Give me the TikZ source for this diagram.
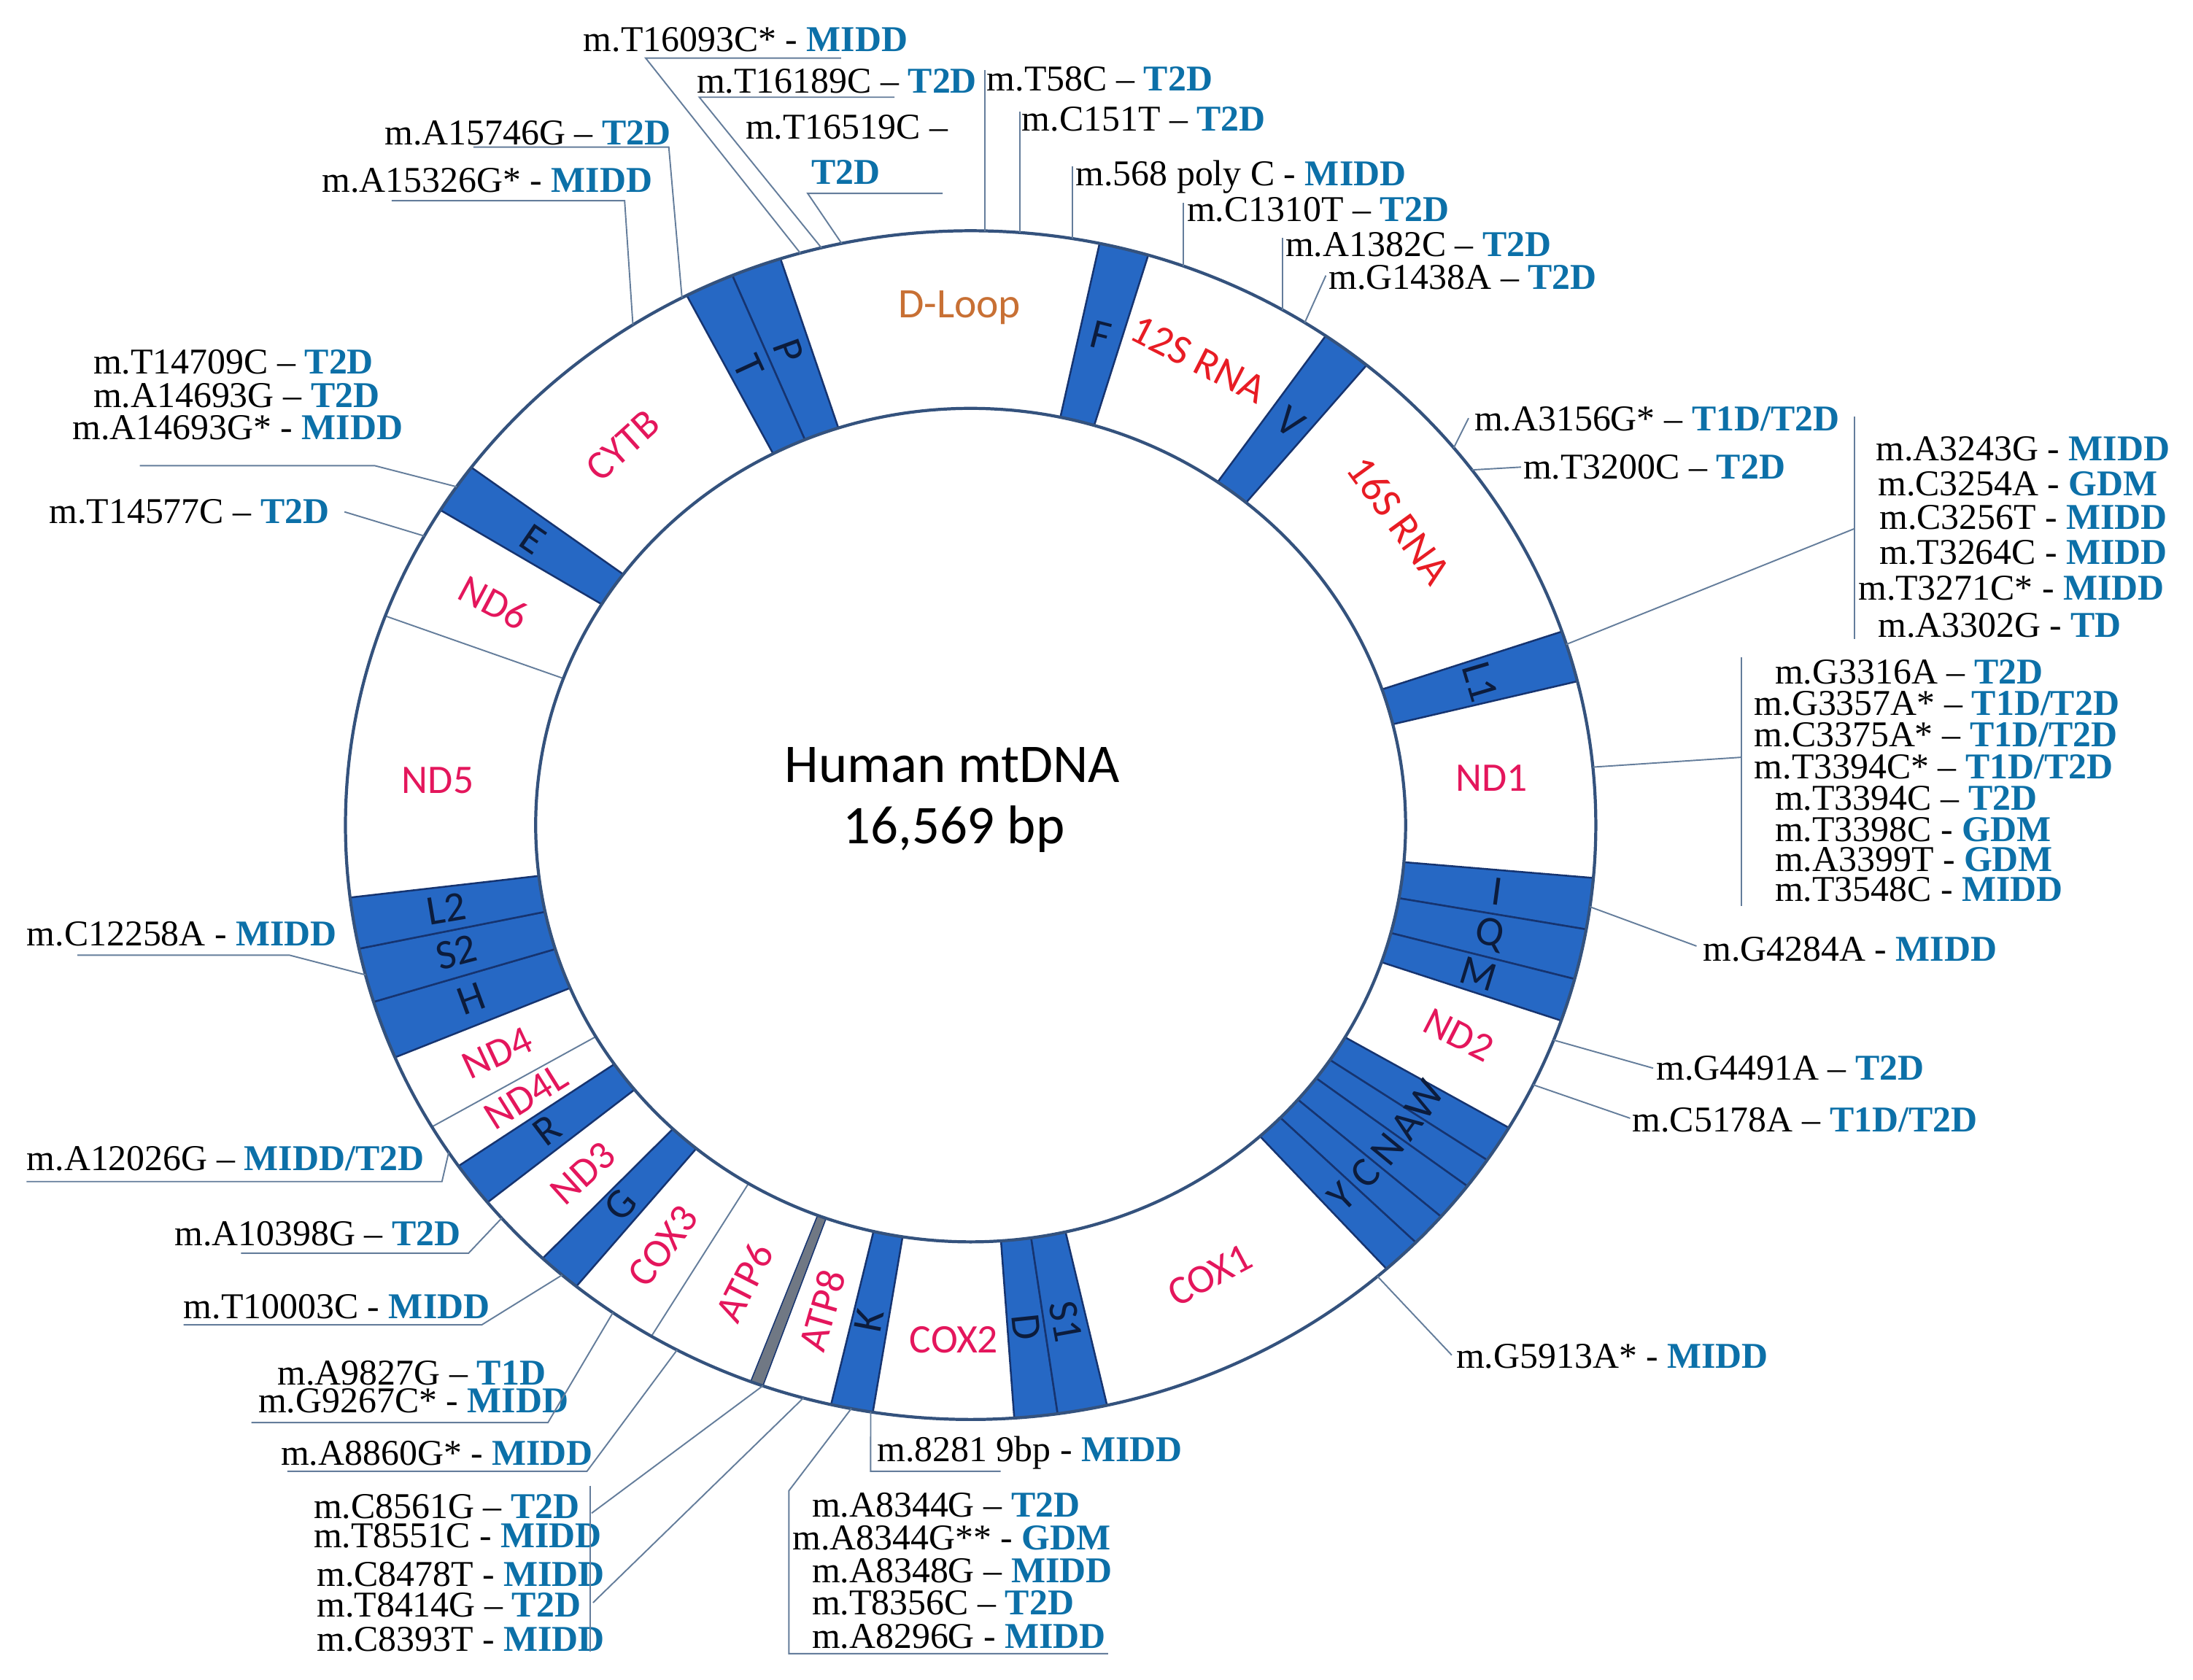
\documentclass[tikz,border=0pt]{standalone}
\usepackage{fontspec}
\setmainfont{Liberation Serif}
\newfontfamily\calfont{Carlito}
\definecolor{dz}{RGB}{12,112,168}
\definecolor{gene}{RGB}{228,22,92}
\definecolor{rrna}{RGB}{232,28,36}
\definecolor{dloop}{RGB}{200,112,52}
\definecolor{trnafill}{RGB}{38,104,196}
\definecolor{trnaline}{RGB}{22,52,112}
\definecolor{trnatext}{RGB}{12,28,60}
\definecolor{ringc}{RGB}{52,82,125}
\definecolor{leadc}{RGB}{100,125,155}
\definecolor{graybar}{RGB}{112,120,132}
\newcommand\dzz[1]{\textbf{\textcolor{dz}{#1}}}
\tikzset{
 lbl/.style={anchor=base west, inner sep=0pt, font=\fontsize{26}{26}\selectfont},
 lead/.style={draw=leadc, line width=1pt},
 gname/.style={font=\calfont\fontsize{29}{29}\selectfont, text=gene, inner sep=0pt},
 rname/.style={font=\calfont\fontsize{30}{30}\selectfont, text=rrna, inner sep=0pt},
 tname/.style={font=\calfont\fontsize{30}{30}\selectfont, text=trnatext, inner sep=0pt},
 trna/.style={fill=trnafill, draw=trnaline, line width=1.3pt},
 gbar/.style={fill=graybar, draw=trnaline, line width=0.8pt},
 thinb/.style={draw=leadc, line width=1pt},
 ringline/.style={draw=ringc, line width=2.2pt},
}
\newcommand\trnaseg[3][trna]{\path[#1] (#2:447 and 425) arc[start angle=#2, end angle=#3, x radius=447, y radius=425] -- (#3:311 and 298) arc[start angle=#3, end angle=#2, x radius=311, y radius=298] -- cycle;}
\newcommand\mlab[4]{\node[lbl] (#1) at (#2,#3+8.5) {#4};}
\begin{document}
\begin{tikzpicture}[x=1pt,y=-1pt]
\fill[white] (0,0) rectangle (1568,1201);
\useasboundingbox (0,0) rectangle (1568,1201);

\begin{scope}[shift={(694,590)}, y=1pt]
 % tRNA blocks
 \trnaseg{107.7}{112.4}
 \trnaseg{112.4}{117.0}
 \trnaseg{73.5}{78.1}
 \trnaseg{50.7}{55.4}
 \trnaseg{14.0}{19.0}
 \trnaseg{-10.1}{-5.1}
 \trnaseg{-15.0}{-10.1}
 \trnaseg{-19.2}{-15.0}
 \trnaseg{-34.3}{-30.6}
 \trnaseg{-37.4}{-34.3}
 \trnaseg{-41.2}{-37.4}
 \trnaseg{-44.6}{-41.2}
 \trnaseg{-48.3}{-44.6}
 \trnaseg{-86.0}{-82.0}
 \trnaseg{-82.0}{-77.4}
 \trnaseg{-102.9}{-99.0}
 \trnaseg{-133.2}{-129.1}
 \trnaseg{-145.0}{-140.6}
 \trnaseg{-162.7}{-157.0}
 \trnaseg{-168.0}{-162.7}
 \trnaseg{-173.0}{-168.0}
 \trnaseg{143.0}{148.0}
 \trnaseg[gbar]{-110.6}{-109.4}
 % thin boundaries
 \draw[thinb] (-149.5:311 and 298) -- (-149.5:447 and 425);
 \draw[thinb] (159.4:311 and 298) -- (159.4:447 and 425);
 \draw[thinb] (-120.7:311 and 298) -- (-120.7:447 and 425);
 % ring
 \draw[ringline] (0,0) ellipse[x radius=447, y radius=425];
 \draw[ringline] (0,0) ellipse[x radius=311, y radius=298];
 % tRNA letters
 \node[tname, rotate=-65.3] (lT) at (114.7:380 and 361) {T};
 \node[tname, rotate=-70] (lP) at (110.0:380 and 361) {P};
 \node[tname, rotate=-14.2] (lF) at (75.8:380 and 361) {F};
 \node[tname, rotate=-37] (lV) at (53.0:380 and 361) {V};
 \node[tname, rotate=-73.5] (lL1) at (16.5:380 and 361) {L1};
 \node[tname, rotate=-7.6] (lI) at (-7.6:380 and 361) {I};
 \node[tname, rotate=-12.5] (lQ) at (-12.5:380 and 361) {Q};
 \node[tname, rotate=-17] (lM) at (-17.1:380 and 361) {M};
 \node[tname, rotate=57.5] (lW) at (-32.5:385 and 366) {W};
 \node[tname, rotate=54.1] (lA) at (-35.9:385 and 366) {A};
 \node[tname, rotate=50.7] (lN) at (-39.3:385 and 366) {N};
 \node[tname, rotate=47.1] (lC) at (-42.9:385 and 366) {C};
 \node[tname, rotate=43.5] (lY) at (-46.5:385 and 366) {Y};
 \node[tname, rotate=-84] (lD) at (-84.0:380 and 361) {D};
 \node[tname, rotate=-79.7] (lS1) at (-79.7:380 and 361) {S1};
 \node[tname, rotate=79] (lK) at (-101.0:380 and 361) {K};
 \node[tname, rotate=48.8] (lG) at (-131.2:380 and 361) {G};
 \node[tname, rotate=37.2] (lR) at (-142.8:380 and 361) {R};
 \node[tname, rotate=20.1] (lH) at (-159.9:380 and 361) {H};
 \node[tname, rotate=14.6] (lS2) at (-165.4:380 and 361) {S2};
 \node[tname, rotate=9.5] (lL2) at (-170.5:380 and 361) {L2};
 \node[tname, rotate=-34.5] (lE) at (145.5:380 and 361) {E};
 % ring anchor points for leaders
 \coordinate (r1) at (105.8:447 and 425);
 \coordinate (r2) at (103.8:447 and 425);
 \coordinate (r3) at (101.9:447 and 425);
 \coordinate (r4) at (117.5:447 and 425);
 \coordinate (r5) at (122.7:447 and 425);
 \coordinate (r6) at (88.7:447 and 425);
 \coordinate (r7) at (85.5:447 and 425);
 \coordinate (r8) at (80.6:447 and 425);
 \coordinate (r9) at (70.1:447 and 425);
 \coordinate (r10) at (60.05:447 and 425);
 \coordinate (r11) at (57.7:447 and 425);
 \coordinate (r12) at (39.4:447 and 425);
 \coordinate (r13) at (36.7:447 and 425);
 \coordinate (r14) at (17.7:447 and 425);
 \coordinate (r15) at (5.6:447 and 425);
 \coordinate (r16) at (-7.9:447 and 425);
 \coordinate (r17) at (-21.2:447 and 425);
 \coordinate (r18) at (-25.9:447 and 425);
 \coordinate (r19) at (-49.4:447 and 425);
 \coordinate (r20) at (-99.2:447 and 425);
 \coordinate (r21) at (-101.0:447 and 425);
 \coordinate (r22a) at (-109.4:447 and 425);
 \coordinate (r22b) at (-105.5:447 and 425);
 \coordinate (r23) at (-118.0:447 and 425);
 \coordinate (r24) at (-124.9:447 and 425);
 \coordinate (r25) at (-130.8:447 and 425);
 \coordinate (r26) at (-138.6:447 and 425);
 \coordinate (r27) at (-146.6:447 and 425);
 \coordinate (r28) at (-165.4:447 and 425);
 \coordinate (r29) at (150.9:447 and 425);
 \coordinate (r30) at (145.3:447 and 425);
\end{scope}

% gene names
\node[font=\calfont\fontsize{30}{30}\selectfont, text=dloop, inner sep=0pt] (gDL) at (686,220) {D-Loop};
\node[rname, rotate=-27] (g12S) at (857,257) {12S RNA};
\node[rname, rotate=-54] (g16S) at (1000.5,372) {16S RNA};
\node[gname] (gND1) at (1066.5,556.5) {ND1};
\node[gname, rotate=-27] (gND2) at (1043,740) {ND2};
\node[gname, rotate=28] (gCOX1) at (865,912) {COX1};
\node[gname] (gCOX2) at (682,958) {COX2};
\node[gname, rotate=74] (gATP8) at (588,937) {ATP8};
\node[gname, rotate=63] (gATP6) at (532,917) {ATP6};
\node[gname, rotate=53] (gCOX3) at (474,891) {COX3};
\node[gname, rotate=42] (gND3) at (417,839) {ND3};
\node[gname, rotate=32] (gND4L) at (376,784) {ND4L};
\node[gname, rotate=25] (gND4) at (355.5,753) {ND4};
\node[gname] (gND5) at (313,558) {ND5};
\node[gname, rotate=-28] (gND6) at (353,431) {ND6};
\node[gname, rotate=42] (gCYTB) at (445.5,318.5) {CYTB};

% centre title
\node[font=\calfont\fontsize{39}{39}\selectfont, inner sep=0pt] (title1) at (681,547) {Human mtDNA};
\node[font=\calfont\fontsize{39}{39}\selectfont, inner sep=0pt] (title2) at (682,593) {16,569 bp};

% labels
\mlab{tA}{417}{28.5}{m.T16093C* - \dzz{MIDD}}
\mlab{tB}{498}{58}{m.T16189C – \dzz{T2D}}
\mlab{tC}{533}{91}{m.T16519C –}
\mlab{tCb}{580}{123}{\dzz{T2D}}
\mlab{tD}{275}{95}{m.A15746G – \dzz{T2D}}
\mlab{tE}{230}{129}{m.A15326G* - \dzz{MIDD}}
\mlab{tF}{705.5}{56.5}{m.T58C – \dzz{T2D}}
\mlab{tG}{730.5}{85}{m.C151T – \dzz{T2D}}
\mlab{tH}{769}{124}{m.568 poly C - \dzz{MIDD}}
\mlab{tI}{848.5}{150}{m.C1310T – \dzz{T2D}}
\mlab{tJ}{919}{175}{m.A1382C – \dzz{T2D}}
\mlab{tK}{950}{198.5}{m.G1438A – \dzz{T2D}}
\mlab{tL}{1054}{299.5}{m.A3156G* – \dzz{T1D/T2D}}
\mlab{tM}{1089}{334}{m.T3200C – \dzz{T2D}}
\mlab{tN1}{1341}{320.7}{m.A3243G - \dzz{MIDD}}
\mlab{tN2}{1342.6}{345.9}{m.C3254A - \dzz{GDM}}
\mlab{tN3}{1343.7}{369.9}{m.C3256T - \dzz{MIDD}}
\mlab{tN4}{1343.7}{395.2}{m.T3264C - \dzz{MIDD}}
\mlab{tN5}{1328.5}{420.4}{m.T3271C* - \dzz{MIDD}}
\mlab{tN6}{1342.6}{447}{m.A3302G - \dzz{TD}}
\mlab{tO1}{1269}{480.3}{m.G3316A – \dzz{T2D}}
\mlab{tO2}{1254.2}{502.9}{m.G3357A* – \dzz{T1D/T2D}}
\mlab{tO3}{1254.2}{525.5}{m.C3375A* – \dzz{T1D/T2D}}
\mlab{tO4}{1254.2}{548.1}{m.T3394C* – \dzz{T1D/T2D}}
\mlab{tO5}{1269}{570.8}{m.T3394C – \dzz{T2D}}
\mlab{tO6}{1269}{593.4}{m.T3398C - \dzz{GDM}}
\mlab{tO7}{1269}{614.7}{m.A3399T - \dzz{GDM}}
\mlab{tO8}{1269}{636}{m.T3548C - \dzz{MIDD}}
\mlab{tP}{1217.4}{678.8}{m.G4284A - \dzz{MIDD}}
\mlab{tQ}{1184}{763.8}{m.G4491A – \dzz{T2D}}
\mlab{tR}{1167}{801}{m.C5178A – \dzz{T1D/T2D}}
\mlab{tS}{1041}{970}{m.G5913A* - \dzz{MIDD}}
\mlab{tT}{627}{1036.4}{m.8281 9bp - \dzz{MIDD}}
\mlab{tU1}{580.4}{1076.3}{m.A8344G – \dzz{T2D}}
\mlab{tU2}{566.4}{1099.8}{m.A8344G** - \dzz{GDM}}
\mlab{tU3}{580.4}{1123.3}{m.A8348G – \dzz{MIDD}}
\mlab{tU4}{580.4}{1145.9}{m.T8356C – \dzz{T2D}}
\mlab{tU5}{580.4}{1170.2}{m.A8296G - \dzz{MIDD}}
\mlab{tV1}{224.1}{1077.2}{m.C8561G – \dzz{T2D}}
\mlab{tV2}{224.1}{1098.1}{m.T8551C - \dzz{MIDD}}
\mlab{tV3}{226.4}{1125.9}{m.C8478T - \dzz{MIDD}}
\mlab{tV4}{226.4}{1147.6}{m.T8414G – \dzz{T2D}}
\mlab{tV5}{226.4}{1172}{m.C8393T - \dzz{MIDD}}
\mlab{tW}{200.7}{1039}{m.A8860G* - \dzz{MIDD}}
\mlab{tX1}{198.4}{981.6}{m.A9827G – \dzz{T1D}}
\mlab{tX2}{184.5}{1001.6}{m.G9267C* - \dzz{MIDD}}
\mlab{tY}{131.2}{934.5}{m.T10003C - \dzz{MIDD}}
\mlab{tZ}{124.8}{882.1}{m.A10398G – \dzz{T2D}}
\mlab{tAA}{19}{828.6}{m.A12026G – \dzz{MIDD/T2D}}
\mlab{tAB}{19}{668}{m.C12258A - \dzz{MIDD}}
\mlab{tAC}{35}{366}{m.T14577C – \dzz{T2D}}
\mlab{tAD1}{66.6}{259}{m.T14709C – \dzz{T2D}}
\mlab{tAD2}{66.6}{282.6}{m.A14693G – \dzz{T2D}}
\mlab{tAD3}{51.6}{306}{m.A14693G* - \dzz{MIDD}}

% leader bend / end coordinates
\coordinate (u1a) at (461.6,41.5); \coordinate (u1b) at (601.4,41.5);
\coordinate (u2a) at (500,69.5); \coordinate (u2b) at (639.6,69.5);
\coordinate (u3a) at (577.5,138.3); \coordinate (u3b) at (674,138.3);
\coordinate (u4a) at (338.5,105.2); \coordinate (u4b) at (478.2,105.2);
\coordinate (u5a) at (280,143.5); \coordinate (u5b) at (446.6,143.5);
\coordinate (h6) at (0,50);
\coordinate (h7) at (0,80);
\coordinate (h8) at (0,119);
\coordinate (h9) at (0,145);
\coordinate (h10) at (0,170);
\coordinate (e11) at (948,197);
\coordinate (e12) at (1050,299);
\coordinate (e13) at (1087.5,334);
\coordinate (e14) at (1326,378); \coordinate (k14a) at (1326,298); \coordinate (k14b) at (1326,457);
\coordinate (e15) at (1245,541.5); \coordinate (k15a) at (1245,470); \coordinate (k15b) at (1245,648);
\coordinate (e16) at (1213,676.5);
\coordinate (e17) at (1182,763.8);
\coordinate (e18) at (1165.5,799.6);
\coordinate (e19) at (1038,969);
\coordinate (u20a) at (622.5,1052); \coordinate (u20b) at (715.5,1052);
\coordinate (k21a) at (564.1,1065.9); \coordinate (k21b) at (564.1,1182.4); \coordinate (k21c) at (792.3,1182.4);
\coordinate (k22a) at (422,1062.4); \coordinate (k22b) at (422,1180.7);
\coordinate (e22a) at (423,1082); \coordinate (e22b) at (424,1146);
\coordinate (u23a) at (419.7,1052); \coordinate (u23b) at (205.4,1052);
\coordinate (u24a) at (391.8,1017.2); \coordinate (u24b) at (179.8,1017.2);
\coordinate (u25a) at (344.5,947.3); \coordinate (u25b) at (131.2,947.3);
\coordinate (u26a) at (335,896.1); \coordinate (u26b) at (172.3,896.1);
\coordinate (u27a) at (316,844.9); \coordinate (u27b) at (19,844.9);
\coordinate (u28a) at (207,683); \coordinate (u28b) at (55.3,683);
\coordinate (e29) at (246.3,366);
\coordinate (u30a) at (268,333); \coordinate (u30b) at (100,333);

% leaders
\draw[lead] (r1) -- (u1a) -- (u1b);
\draw[lead] (r2) -- (u2a) -- (u2b);
\draw[lead] (r3) -- (u3a) -- (u3b);
\draw[lead] (u4a) -- (u4b) -- (r4);
\draw[lead] (u5a) -- (u5b) -- (r5);
\draw[lead] (r6) -- (r6 |- h6);
\draw[lead] (r7) -- (r7 |- h7);
\draw[lead] (r8) -- (r8 |- h8);
\draw[lead] (r9) -- (r9 |- h9);
\draw[lead] (r10) -- (r10 |- h10);
\draw[lead] (r11) -- (e11);
\draw[lead] (r12) -- (e12);
\draw[lead] (r13) -- (e13);
\draw[lead] (r14) -- (e14);
\draw[lead] (k14a) -- (k14b);
\draw[lead] (r15) -- (e15);
\draw[lead] (k15a) -- (k15b);
\draw[lead] (r16) -- (e16);
\draw[lead] (r17) -- (e17);
\draw[lead] (r18) -- (e18);
\draw[lead] (r19) -- (e19);
\draw[lead] (r20) -- (u20a) -- (u20b);
\draw[lead] (r21) -- (k21a) -- (k21b) -- (k21c);
\draw[lead] (k22a) -- (k22b);
\draw[lead] (r22a) -- (e22a);
\draw[lead] (r22b) -- (e22b);
\draw[lead] (r23) -- (u23a) -- (u23b);
\draw[lead] (r24) -- (u24a) -- (u24b);
\draw[lead] (r25) -- (u25a) -- (u25b);
\draw[lead] (r26) -- (u26a) -- (u26b);
\draw[lead] (r27) -- (u27a) -- (u27b);
\draw[lead] (r28) -- (u28a) -- (u28b);
\draw[lead] (r29) -- (e29);
\draw[lead] (r30) -- (u30a) -- (u30b);
\end{tikzpicture}
\end{document}
